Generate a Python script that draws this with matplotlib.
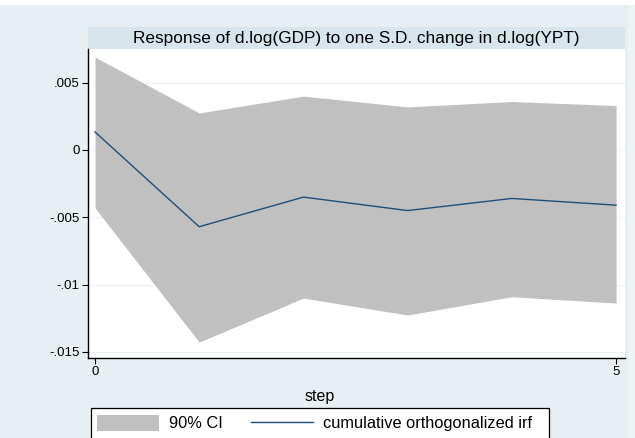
import numpy as np
import matplotlib.pyplot as plt
from matplotlib.patches import Rectangle, Patch
from matplotlib.lines import Line2D

plt.rcParams['font.family'] = ['Liberation Sans', 'DejaVu Sans']

# values
steps = [0, 1, 2, 3, 4, 5]
irf = [0.00134, -0.0057, -0.0035, -0.0045, -0.0036, -0.0041]
ci_upper = [0.0069, 0.00275, 0.0040, 0.0032, 0.0036, 0.0033]
ci_lower = [-0.0043, -0.01427, -0.0110, -0.01226, -0.0109, -0.01137]
yticks = [0.005, 0, -0.005, -0.01, -0.015]
ytick_labels = ['.005', '0', '-.005', '-.01', '-.015']
title = 'Response of d.log(GDP) to one S.D. change in d.log(YPT)'

bg = '#e8eff2'
band = '#d8e5ec'
shade = '#c0c0c0'
navy = '#1f4e79'

W, H = 635, 438
fig = plt.figure(figsize=(W / 100, H / 100), dpi=100, facecolor='white')

# bluish page background, with a thin white strip on top
fig.patches.append(Rectangle((0, 0), 628 / W, 1 - 5 / H, transform=fig.transFigure,
                             facecolor=bg, edgecolor='none', zorder=-10))
fig.patches.append(Rectangle((628 / W, 0), 7 / W, 1 - 5 / H, transform=fig.transFigure,
                             facecolor='#eef3f5', edgecolor='none', zorder=-10))

# plot region
x0, x1 = 88, 625
y_top, y_bot = 49, 358
ax = fig.add_axes([x0 / W, 1 - y_bot / H, (x1 - x0) / W, (y_bot - y_top) / H])
ax.set_facecolor('white')

# title band
fig.patches.append(Rectangle((x0 / W, 1 - y_top / H), (x1 - x0) / W, 22 / H,
                             transform=fig.transFigure, facecolor=band,
                             edgecolor='none', zorder=-5))
fig.text((x0 + x1) / 2 / W, 1 - 38 / H, title, ha='center', va='center', fontsize=12.4)

ax.fill_between(steps, ci_lower, ci_upper, color=shade, linewidth=0, zorder=2)
ax.plot(steps, irf, color=navy, lw=1.0, zorder=3)

ax.set_xlim(-0.067, 5.086)
ax.set_ylim(-0.01545, 0.0075)
ax.set_yticks(yticks)
ax.set_yticklabels(ytick_labels)
ax.set_xticks([0, 5])
ax.set_xticklabels(['0', '5'])
ax.grid(axis='y', color='#eaf2f3', lw=0.8, zorder=1)
ax.set_axisbelow(True)

for s in ['top', 'right']:
    ax.spines[s].set_visible(False)
for s in ['left', 'bottom']:
    ax.spines[s].set_linewidth(1.0)
    ax.spines[s].set_color('black')
ax.tick_params(direction='out', length=4, width=0.8, labelsize=9.5, pad=2)

fig.text(320 / W, 1 - 396 / H, 'step', ha='center', va='center', fontsize=11.5)

# legend box (cut off by the bottom edge like in the original)
fig.patches.append(Rectangle((91 / W, -0.05), (549 - 91) / W, 0.05 + 1 - 408 / H,
                             transform=fig.transFigure, facecolor='white',
                             edgecolor='black', lw=0.9, zorder=5))
handles = [Patch(facecolor=shade, edgecolor='none'),
           Line2D([0], [0], color=navy, lw=1.0)]
leg = fig.legend(handles, ['90% CI', 'cumulative orthogonalized irf'],
                 loc='upper left', bbox_to_anchor=(92 / W, 1 - 410 / H),
                 ncol=2, fontsize=11.8, frameon=False,
                 handlelength=3.8, handleheight=1.1,
                 handletextpad=0.6, columnspacing=1.7, borderpad=0.3, borderaxespad=0)
leg.set_zorder(6)

fig.savefig('out.png', dpi=100)
